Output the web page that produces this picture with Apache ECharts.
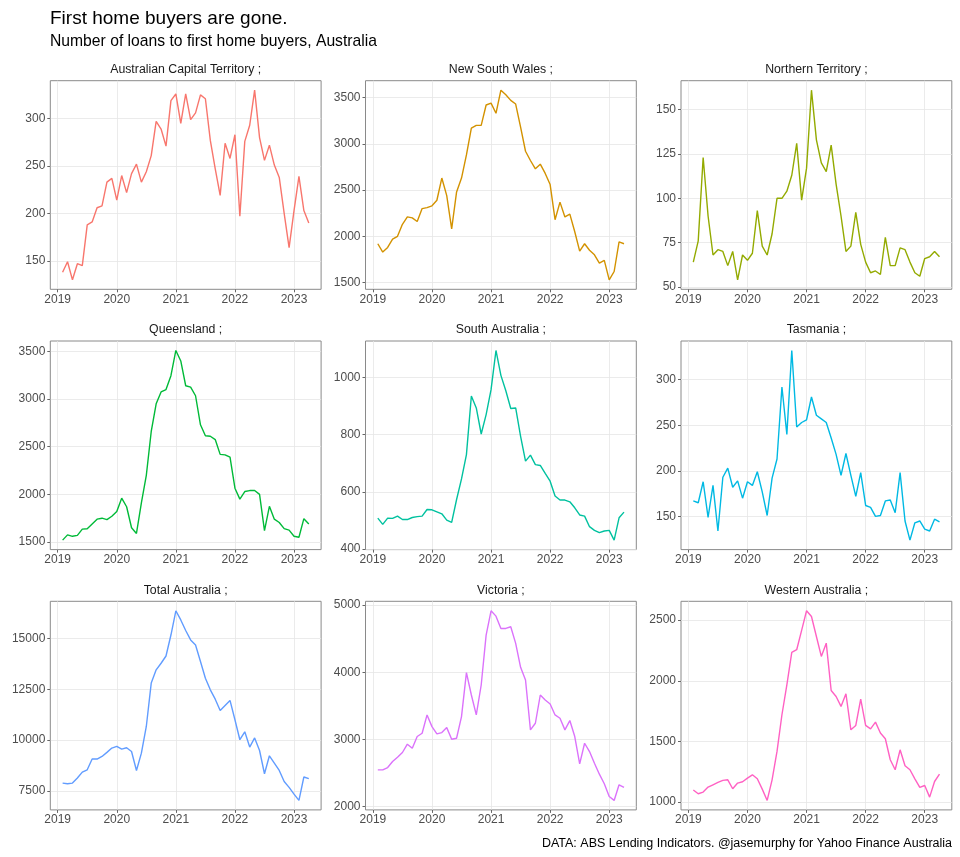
<!DOCTYPE html>
<html><head><meta charset="utf-8">
<script src="https://cdn.jsdelivr.net/npm/echarts@6/dist/echarts.min.js"></script>
<style>html,body{margin:0;padding:0;background:#fff}#c{width:960px;height:857px}</style>
</head><body><div id="c"></div>
<script>
const months = ['2019-02','2019-03','2019-04','2019-05','2019-06','2019-07','2019-08','2019-09','2019-10','2019-11','2019-12',
'2020-01','2020-02','2020-03','2020-04','2020-05','2020-06','2020-07','2020-08','2020-09','2020-10','2020-11','2020-12',
'2021-01','2021-02','2021-03','2021-04','2021-05','2021-06','2021-07','2021-08','2021-09','2021-10','2021-11','2021-12',
'2022-01','2022-02','2022-03','2022-04','2022-05','2022-06','2022-07','2022-08','2022-09','2022-10','2022-11','2022-12',
'2023-01','2023-02','2023-03','2023-04'];
const xTicks = [2019,2020,2021,2022,2023];

const act = [138,149,130,147,145,188,191,206,208,233,237,214,240,222,242,252,233,244,261,297,289,271,319,326,295,326,299,306,325,321,277,247,219,274,258,283,197,276,293,330,280,256,272,251,238,200,164,203,239,203,190];
const nsw = [1920,1830,1880,1970,2000,2130,2210,2200,2160,2300,2310,2330,2390,2630,2440,2080,2480,2630,2880,3170,3200,3200,3420,3440,3330,3580,3530,3470,3430,3180,2920,2820,2730,2780,2680,2560,2180,2370,2210,2240,2050,1840,1920,1850,1800,1710,1740,1530,1620,1940,1920];
const nt = [64,76,123,90,68,71,70,62,70,54,68,65,69,93,73,68,80,100,100,104,113,131,99,117,161,133,120,115,130,108,90,70,73,92,74,64,58,59,57,78,62,62,72,71,64,58,56,66,67,70,67];
const qld = [1520,1575,1560,1570,1635,1640,1690,1740,1750,1735,1770,1820,1960,1870,1650,1590,1910,2200,2660,2950,3075,3100,3245,3510,3400,3140,3125,3035,2730,2615,2610,2575,2420,2415,2390,2065,1950,2030,2040,2040,2000,1620,1875,1740,1705,1640,1625,1560,1550,1745,1690];
const sa = [508,486,508,507,515,503,503,510,513,515,538,537,530,523,501,493,573,645,730,935,893,802,870,957,1094,1007,953,891,893,794,707,728,695,692,664,637,585,571,571,565,544,519,515,478,465,457,463,465,431,509,529];
const tas = [167,165,188,149,184,134,193,203,182,189,170,188,184,199,177,151,192,213,292,240,332,248,253,256,281,261,257,253,236,218,195,219,195,172,198,162,160,150,151,167,168,154,198,145,124,143,145,136,134,147,144];
const total = [7890,7860,7890,8140,8430,8545,9070,9070,9200,9400,9610,9690,9560,9625,9440,8510,9360,10670,12800,13450,13775,14130,15160,16350,15900,15380,14920,14670,13860,13040,12470,12010,11450,11700,11950,11000,10020,10410,9660,10110,9490,8350,9230,8870,8510,7970,7680,7350,7040,8190,8110];
const vic = [2545,2545,2580,2670,2734,2804,2928,2868,3042,3091,3364,3190,3081,3101,3175,3002,3017,3339,3994,3661,3364,3810,4554,4916,4836,4653,4653,4678,4430,4073,3884,3141,3240,3661,3587,3527,3364,3314,3141,3280,3042,2635,2942,2818,2645,2481,2338,2149,2090,2323,2283];
const wa = [1100,1069,1083,1124,1143,1162,1179,1184,1110,1157,1168,1198,1225,1192,1107,1014,1184,1418,1720,1967,2234,2256,2415,2577,2530,2365,2201,2310,1920,1871,1789,1893,1596,1632,1849,1632,1604,1659,1569,1522,1349,1267,1431,1300,1267,1192,1121,1137,1041,1170,1231];

const panelNames = ['Australian Capital Territory ;','New South Wales ;','Northern Territory ;','Queensland ;','South Australia ;','Tasmania ;','Total Australia ;','Victoria ;','Western Australia ;'];
const panelData = [act, nsw, nt, qld, sa, tas, total, vic, wa];
const yTicks = [
  [150,200,250,300],
  [1500,2000,2500,3000,3500],
  [50,75,100,125,150],
  [1500,2000,2500,3000,3500],
  [400,600,800,1000],
  [150,200,250,300],
  [7500,10000,12500,15000],
  [2000,3000,4000,5000],
  [1000,1500,2000,2500]
];
const colors = ['#F8766D','#D39200','#93AA00','#00BA38','#00C19F','#00B9E3','#619CFF','#DB72FB','#FF61C3'];

const title = 'First home buyers are gone.';
const subtitle = 'Number of loans to first home buyers, Australia';
const caption = 'DATA: ABS Lending Indicators. @jasemurphy for Yahoo Finance Australia';

const FONT = '"Liberation Sans", Arial, Helvetica, sans-serif';
const lefts = [50.3, 365.5, 681];
const tops = [80.7, 341, 601.3];
const W = 270.8, H = 208.6;

const xs = months.map(m => { const [y, mo] = m.split('-').map(Number); return y + (mo - 1) / 12; });
const xMin0 = Math.min(...xs), xMax0 = Math.max(...xs), xPad = (xMax0 - xMin0) * 0.05;

const grids = [], xAxes = [], yAxes = [], series = [], titles = [];
titles.push({text: title, left: 50, top: 9, padding: 0, textStyle: {fontFamily: FONT, fontSize: 19, fontWeight: 'normal', color: '#000'}});
titles.push({text: subtitle, left: 50, top: 34, padding: 0, textStyle: {fontFamily: FONT, fontSize: 15.7, fontWeight: 'normal', color: '#000'}});
titles.push({text: caption, right: 8, top: 837, padding: 0, textStyle: {fontFamily: FONT, fontSize: 12.5, fontWeight: 'normal', color: '#000'}});

panelData.forEach((d, i) => {
  const r = Math.floor(i / 3), c = i % 3;
  grids.push({left: lefts[c], top: tops[r], width: W, height: H, show: true, borderColor: '#8a8a8a', borderWidth: 1, backgroundColor: 'transparent', containLabel: false});
  const lo = Math.min(...d), hi = Math.max(...d), pad = (hi - lo) * 0.05;
  xAxes.push({type: 'value', gridIndex: i, min: xMin0 - xPad, max: xMax0 + xPad,
    axisLine: {show: false},
    axisTick: {show: true, length: 3, lineStyle: {color: '#666'}, customValues: xTicks},
    axisLabel: {show: true, margin: 4, fontFamily: FONT, fontSize: 12, color: '#4d4d4d', customValues: xTicks, formatter: v => String(Math.round(v))},
    splitLine: {show: true, lineStyle: {color: '#e6e6e6', width: 0.8}}
  });
  yAxes.push({type: 'value', gridIndex: i, min: lo - pad, max: hi + pad,
    axisLine: {show: false},
    axisTick: {show: true, length: 3, lineStyle: {color: '#666'}, customValues: yTicks[i]},
    axisLabel: {show: true, margin: 5, fontFamily: FONT, fontSize: 12, color: '#4d4d4d', customValues: yTicks[i], formatter: v => String(Math.round(v))},
    splitLine: {show: true, lineStyle: {color: '#e6e6e6', width: 0.8}}
  });
  series.push({type: 'line', xAxisIndex: i, yAxisIndex: i, data: d.map((v, k) => [xs[k], v]),
    showSymbol: false, symbol: 'none', lineStyle: {color: colors[i], width: 1.4}, itemStyle: {color: colors[i]}, animation: false, silent: true});
  titles.push({text: panelNames[i], left: lefts[c] + W / 2, top: tops[r] - 17, padding: 0, textAlign: 'center',
    textStyle: {fontFamily: FONT, fontSize: 12.3, fontWeight: 'normal', color: '#1a1a1a'}});
});

const chart = echarts.init(document.getElementById('c'), null, {renderer: 'canvas'});
chart.setOption({backgroundColor: '#fff', animation: false, title: titles, grid: grids, xAxis: xAxes, yAxis: yAxes, series: series});
</script></body></html>
